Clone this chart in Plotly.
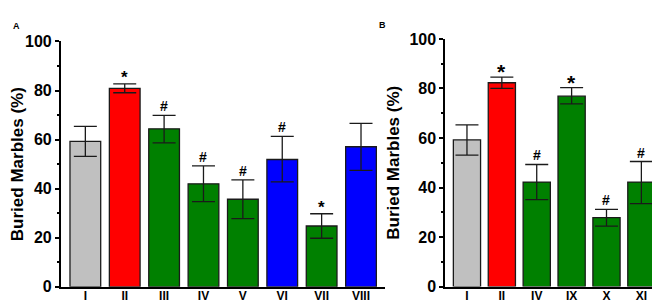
import plotly.graph_objects as go

# Panel A data
cats_a = ["I", "II", "III", "IV", "V", "VI", "VII", "VIII"]
vals_a = [59.3, 80.9, 64.4, 42.0, 35.7, 51.9, 24.8, 57.1]
upper_a = [65.4, 82.7, 69.9, 49.3, 43.6, 61.3, 29.8, 66.6]
lower_a = [53.2, 79.1, 58.7, 34.7, 27.8, 42.8, 19.8, 47.5]
sig_a = ["", "*", "#", "#", "#", "#", "*", ""]
colors_a = ["#C0C0C0", "#FF0000", "#008000", "#008000", "#008000", "#0000FF", "#008000", "#0000FF"]

# Panel B data
cats_b = ["I", "II", "IV", "IX", "X", "XI"]
vals_b = [59.2, 82.3, 42.2, 76.9, 27.8, 42.2]
upper_b = [65.3, 84.6, 49.3, 80.3, 31.2, 50.5]
lower_b = [53.1, 80.0, 35.1, 73.8, 24.4, 33.5]
sig_b = ["", "*", "#", "*", "#", "#"]
colors_b = ["#C0C0C0", "#FF0000", "#008000", "#008000", "#008000", "#008000"]

y_ticks = [0, 20, 40, 60, 80, 100]
FONT = "Liberation Sans"
W, H = 660, 302

fig = go.Figure()


def add_panel(cats, vals, up, lo, colors, xa, ya):
    fig.add_trace(go.Bar(
        x=cats, y=vals, xaxis=xa, yaxis=ya,
        marker=dict(color=colors, line=dict(color="#1a1a1a", width=1.3)),
        error_y=dict(type="data", symmetric=False,
                     array=[u - v for u, v in zip(up, vals)],
                     arrayminus=[v - l for v, l in zip(vals, lo)],
                     color="#1a1a1a", thickness=1.3, width=11.5),
        showlegend=False,
    ))


add_panel(cats_a, vals_a, upper_a, lower_a, colors_a, "x", "y")
add_panel(cats_b, vals_b, upper_b, lower_b, colors_b, "x2", "y2")

annotations = []
for c, u, s in zip(cats_a, upper_a, sig_a):
    if s:
        annotations.append(dict(x=c, y=u, xref="x", yref="y", text=s,
                                showarrow=False, yanchor="bottom", yshift=-5 if s == "*" else -1,
                                font=dict(family=FONT, size=17 if s == "*" else 14, color="black", weight="bold")))
for c, u, s in zip(cats_b, upper_b, sig_b):
    if s:
        annotations.append(dict(x=c, y=u, xref="x2", yref="y2", text=s,
                                showarrow=False, yanchor="bottom", yshift=-8 if s == "*" else -1,
                                font=dict(family=FONT, size=21 if s == "*" else 14, color="black", weight="bold")))
annotations.append(dict(x=2 / W, y=1 - 3 / H, xref="paper", yref="paper", text="A",
                        showarrow=False, xanchor="left", yanchor="top",
                        font=dict(family=FONT, size=9, color="black", weight="bold")))
annotations.append(dict(x=369 / W, y=1 - 2 / H, xref="paper", yref="paper", text="B",
                        showarrow=False, xanchor="left", yanchor="top",
                        font=dict(family=FONT, size=9, color="black", weight="bold")))

xcommon = dict(showline=True, linewidth=2, linecolor="black", ticks="", showgrid=False,
               zeroline=False, tickfont=dict(family=FONT, size=12, color="black", weight="bold"),
               ticklabelstandoff=-3)
ycommon = dict(range=[0, 100], tickvals=y_ticks, showline=True, linewidth=2, linecolor="black",
               ticks="outside", ticklen=4, tickwidth=2, tickcolor="black", showgrid=False,
               zeroline=False, tickfont=dict(family=FONT, size=16, color="black", weight="bold"),
               ticklabelstandoff=0,
               minor=dict(dtick=10, ticks="outside", ticklen=2, tickwidth=2, tickcolor="black"),
               title=dict(text="Buried Marbles (%)",
                          font=dict(family=FONT, size=17, color="black", weight="bold"),
                          standoff=5))

fig.update_layout(
    width=W, height=H, margin=dict(l=0, r=0, t=0, b=0),
    paper_bgcolor="white", plot_bgcolor="white",
    barmode="group", bargap=0.22,
    xaxis=dict(domain=[52 / W, 377 / W], range=[-0.62, 7.62], anchor="y", **xcommon),
    yaxis=dict(domain=[(H - 287) / H, (H - 27) / H], anchor="x", **ycommon),
    xaxis2=dict(domain=[437 / W, 655 / W], range=[-0.62, 5.62], anchor="y2", **xcommon),
    yaxis2=dict(domain=[(H - 286.7) / H, (H - 24.3) / H], anchor="x2", **ycommon),
    annotations=annotations,
)
fig.write_html("out.html")
